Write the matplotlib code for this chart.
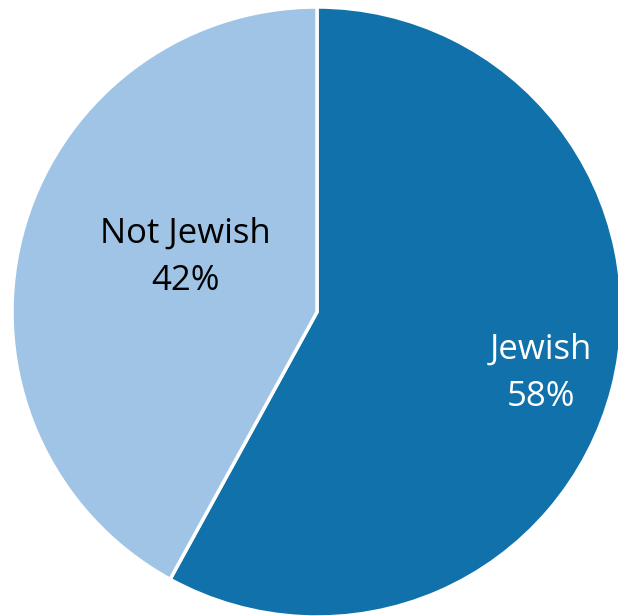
import matplotlib
matplotlib.use("Agg")
import matplotlib.pyplot as plt

labels = ["Jewish", "Not Jewish"]
shares = [58, 42]
colors = ["#1172ab", "#a0c4e6"]
text_colors = ["white", "black"]

fig = plt.figure(figsize=(6.18, 6.16), dpi=100)
ax = fig.add_axes([0, 0, 1, 1])

wedges, texts = ax.pie(
    shares,
    colors=colors,
    startangle=90,
    counterclock=False,
    wedgeprops=dict(edgecolor="white", linewidth=2.5),
)

# label positions (data coords, pie radius = 1)
label_pos = [(0.735, -0.2), (-0.43, 0.18)]
for lab, val, (x, y), tc in zip(labels, shares, label_pos, text_colors):
    ax.text(x, y, f"{lab}\n{val}%", ha="center", va="center",
            fontsize=25, color=tc, family=["Open Sans", "DejaVu Sans"],
            linespacing=1.5)

r = 305.0
ax.set_xlim(-317 / r, (618 - 317) / r)
ax.set_ylim(-(616 - 312) / r, 312 / r)
ax.set_aspect("equal")
ax.axis("off")

fig.savefig("out.png", dpi=100)
